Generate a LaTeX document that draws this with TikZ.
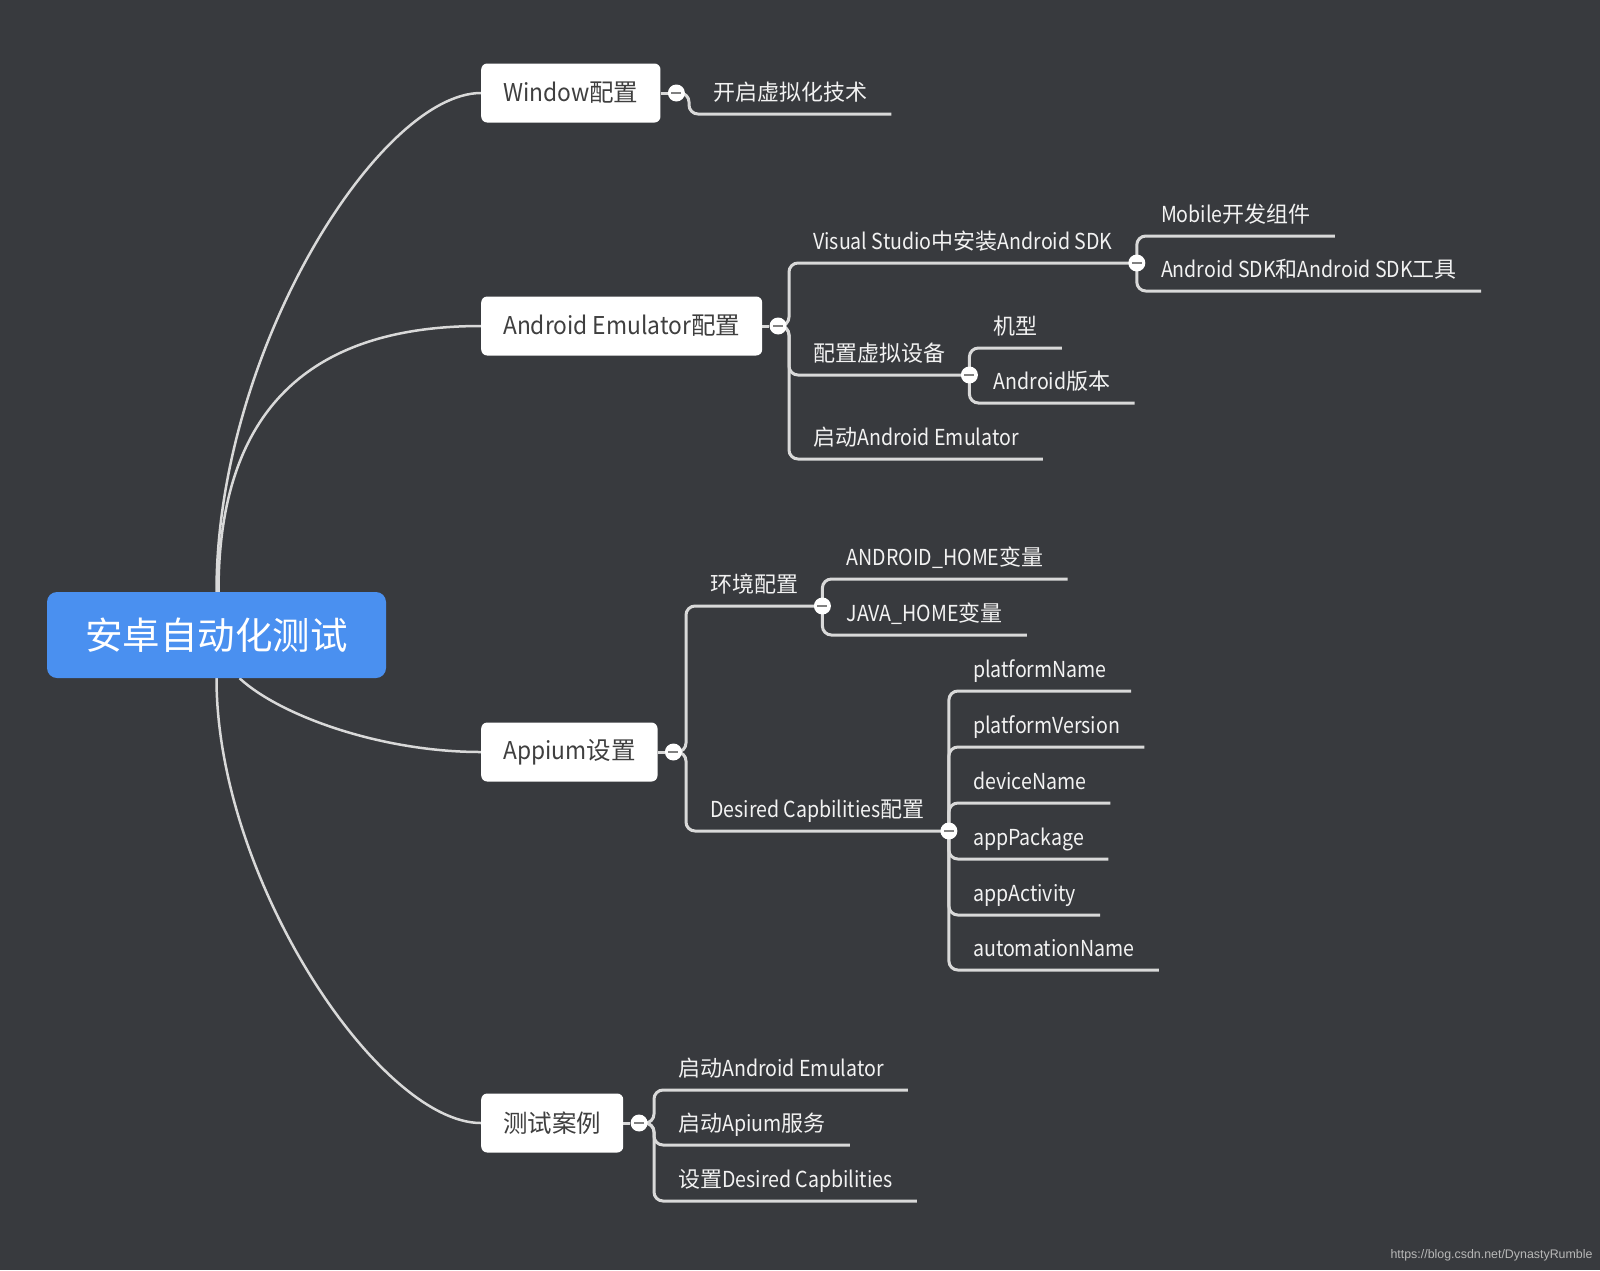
\documentclass[tikz,border=0pt]{standalone}
\usepackage{fontspec}
\setmainfont{Noto Sans CJK SC}
\newfontfamily\fuentecjk{Noto Sans CJK SC}
\newfontfamily\latinahoja[FakeStretch=0.89]{Noto Sans CJK SC}
\newfontfamily\latinacaja[FakeStretch=0.93]{Noto Sans CJK SC}
\newfontfamily\fuenteurl{Liberation Sans}
\newcommand\fuentelatina{}
\usepackage{tikz}
\usetikzlibrary{positioning}
\usetikzlibrary{backgrounds}

% Letras latinas algo más estrechas que los caracteres chinos
\XeTeXinterchartokenstate=1
\count255="4E00
\loop
  \XeTeXcharclass\count255=7
  \advance\count255 by 1
\ifnum\count255<"A000 \repeat
\XeTeXinterchartoks 0 7 = {\fuentecjk}
\XeTeXinterchartoks 4095 7 = {\fuentecjk}
\XeTeXinterchartoks 7 0 = {\fuentelatina}

\definecolor{fondo}{HTML}{383A3E}
\definecolor{linea}{HTML}{D9D9D9}
\definecolor{azul}{HTML}{4A90F0}
\definecolor{textocaja}{HTML}{3F3F3F}
\definecolor{textohoja}{HTML}{F2F2F2}
\definecolor{marca}{HTML}{B8B8B8}

\begin{document}
\begin{tikzpicture}[x=1pt, y=-1pt,
    raiz/.style={rectangle, fill=azul, rounded corners=10pt, minimum width=339pt, minimum height=86pt, text=white, font=\fontsize{37.5pt}{44pt}\selectfont},
    caja/.style={rectangle, fill=white, rounded corners=6pt, minimum height=59pt, inner xsep=22pt, anchor=west, text=textocaja, font={\let\fuentelatina\latinacaja\fuentelatina\fontsize{24.5pt}{29pt}\selectfont}},
    hoja/.style={inner xsep=24pt, inner ysep=0pt, text depth=13.5pt, anchor=south west, text=textohoja, font={\let\fuentelatina\latinahoja\fuentelatina\fontsize{22pt}{26pt}\selectfont}},
    boton/.style={circle, fill=white, minimum size=17pt, inner sep=0pt, path picture={\draw[gray, line width=2.5pt] ([xshift=-5pt]path picture bounding box.center) -- ([xshift=5pt]path picture bounding box.center);}},
    rama/.style={draw=linea, line width=3pt, rounded corners=9pt},
    curva/.style={draw=linea, line width=2.5pt}]

    % Fondo oscuro
    \begin{scope}[on background layer]
        \fill[fondo] (0,0) rectangle (1600,1270);
    \end{scope}

    % Nodo central
    \node (raiz) [raiz] at (216.5,635) {安卓自动化测试};

    % Ramas principales
    \node (win) [caja] at (481,93) {Window配置};
    \node (emu) [caja] at (481,326) {Android Emulator配置};
    \node (app) [caja] at (481,752) {Appium设置};
    \node (caso) [caja] at (481,1123) {测试案例};

    % Botones de las ramas
    \node (bwin) [boton, right=7pt of win] {};
    \node (bemu) [boton, right=7pt of emu] {};
    \node (bapp) [boton, right=7pt of app] {};
    \node (bcaso) [boton, right=7pt of caso] {};

    % Window
    \node (virt) [hoja] at (689,114) {开启虚拟化技术};

    % Android Emulator
    \node (vs) [hoja] at (789,263) {Visual Studio中安装Android SDK};
    \node (conf) [hoja] at (789,375) {配置虚拟设备};
    \node (arr) [hoja] at (789,459) {启动Android Emulator};
    \node (bvs) [boton] at (vs.south east) {};
    \node (bconf) [boton] at (conf.south east) {};
    \node (mob) [hoja] at (bvs.center |- 0,236) {Mobile开发组件};
    \node (sdk) [hoja] at (bvs.center |- 0,291) {Android SDK和Android SDK工具};
    \node (maq) [hoja] at (bconf.center |- 0,348) {机型};
    \node (ver) [hoja] at (bconf.center |- 0,403) {Android版本};

    % Appium
    \node (env) [hoja] at (686,606) {环境配置};
    \node (des) [hoja] at (686,831) {Desired Capbilities配置};
    \node (benv) [boton] at (env.south east) {};
    \node (bdes) [boton] at (des.south east) {};
    \node (ah) [hoja] at (benv.center |- 0,579) {ANDROID\_HOME变量};
    \node (jh) [hoja] at (benv.center |- 0,635) {JAVA\_HOME变量};
    \node (pn) [hoja] at (bdes.center |- 0,691) {platformName};
    \node (pv) [hoja] at (bdes.center |- 0,747) {platformVersion};
    \node (dn) [hoja] at (bdes.center |- 0,803) {deviceName};
    \node (ap) [hoja] at (bdes.center |- 0,859) {appPackage};
    \node (aa) [hoja] at (bdes.center |- 0,915) {appActivity};
    \node (an) [hoja] at (bdes.center |- 0,970) {automationName};

    % Casos de prueba
    \node (c1) [hoja] at (654,1090) {启动Android Emulator};
    \node (c2) [hoja] at (654,1145) {启动Apium服务};
    \node (c3) [hoja] at (654,1201) {设置Desired Capbilities};

    % Marca de agua
    \node (url) [anchor=east, text=marca, font=\fuenteurl\fontsize{12.4pt}{15pt}\selectfont] at (1596,1255) {https://blog.csdn.net/DynastyRumble};

    % Conexiones (debajo de los nodos)
    \begin{scope}[on background layer]
        \draw[curva] (raiz.north) .. controls ([yshift=242pt]raiz.north) and ([xshift=-101pt]win.west) .. (win.west);
        \draw[curva] ([xshift=2pt]raiz.north) .. controls ([xshift=2pt, yshift=172pt]raiz.north) and ([xshift=-181pt]emu.west) .. (emu.west);
        \draw[curva] ([xshift=23pt]raiz.south) .. controls ([xshift=63pt, yshift=-37pt]raiz.south) and ([xshift=-101pt]app.west) .. (app.west);
        \draw[curva] (raiz.south) .. controls ([yshift=-202pt]raiz.south) and ([xshift=-101pt]caso.west) .. (caso.west);

        \draw[rama] (win.east) -- (bwin);
        \draw[rama] (emu.east) -- (bemu);
        \draw[rama] (app.east) -- (bapp);
        \draw[rama] (caso.east) -- (bcaso);

        \draw[rama] (bwin.center) -| (virt.south west) -- (virt.south east);

        \draw[rama] (bemu.center) -| (vs.south west) -- (vs.south east);
        \draw[rama] (bemu.center) -| (conf.south west) -- (conf.south east);
        \draw[rama] (bemu.center) -| (arr.south west) -- (arr.south east);
        \draw[rama] (bvs.center) |- (mob.south east);
        \draw[rama] (bvs.center) |- (sdk.south east);
        \draw[rama] (bconf.center) |- (maq.south east);
        \draw[rama] (bconf.center) |- (ver.south east);

        \draw[rama] (bapp.center) -| (env.south west) -- (env.south east);
        \draw[rama] (bapp.center) -| (des.south west) -- (des.south east);
        \draw[rama] (benv.center) |- (ah.south east);
        \draw[rama] (benv.center) |- (jh.south east);
        \draw[rama] (bdes.center) |- (pn.south east);
        \draw[rama] (bdes.center) |- (pv.south east);
        \draw[rama] (bdes.center) |- (dn.south east);
        \draw[rama] (bdes.center) |- (ap.south east);
        \draw[rama] (bdes.center) |- (aa.south east);
        \draw[rama] (bdes.center) |- (an.south east);

        \draw[rama] (bcaso.center) -| (c1.south west) -- (c1.south east);
        \draw[rama] (bcaso.center) -| (c2.south west) -- (c2.south east);
        \draw[rama] (bcaso.center) -| (c3.south west) -- (c3.south east);
    \end{scope}
\end{tikzpicture}
\end{document}
